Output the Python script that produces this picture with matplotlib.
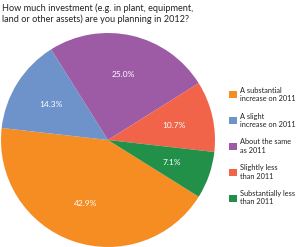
import matplotlib
matplotlib.use("Agg")
import matplotlib.pyplot as plt

title = "How much investment (e.g. in plant, equipment,\nland or other assets) are you planning in 2012?"
labels = ["A substantial\nincrease on 2011", "A slight\nincrease on 2011", "About the same\nas 2011",
          "Slightly less\nthan 2011", "Substantially less\nthan 2011"]
values = [42.9, 14.3, 25.0, 10.7, 7.1]
colors = ["#F68D22", "#6E93CB", "#9D5BA6", "#F1644A", "#23904A"]

plt.rcParams['font.family'] = ['Lato', 'DejaVu Sans']

fig = plt.figure(figsize=(3.0, 2.47), dpi=100)
ax = fig.add_axes([1 / 300, 0, 214 / 300, 214 / 247])
wedges, texts, autotexts = ax.pie(values, colors=colors, startangle=-32, counterclock=False,
                                  autopct='%1.1f%%', pctdistance=0.63, radius=1.0,
                                  textprops={'color': 'white', 'fontsize': 6.0})
ax.set_xlim(-1, 1)
ax.set_ylim(-1, 1)
ax.set_aspect('equal')
ax.axis('off')

fig.text(2 / 300, 1 - 3 / 247, title, ha='left', va='top', fontsize=6.6, color='#222222',
         linespacing=1.2)

leg = fig.legend(wedges, labels, loc='upper left', bbox_to_anchor=(225 / 300, 1 - 83 / 247),
                 frameon=False, fontsize=5.3, handlelength=1.1, handleheight=1.1,
                 handletextpad=0.5, labelspacing=1.45, borderpad=0)
for t in leg.get_texts():
    t.set_color('#222222')

fig.savefig("out.png", dpi=100)
